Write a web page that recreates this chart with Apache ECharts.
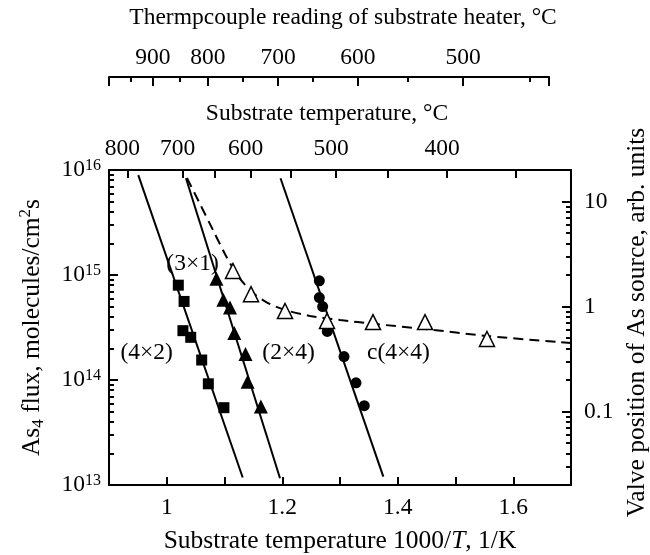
<!DOCTYPE html>
<html><head><meta charset="utf-8">
<script src="https://cdn.jsdelivr.net/npm/echarts@6/dist/echarts.min.js"></script>
<style>html,body{margin:0;padding:0;background:#fff}#c{width:650px;height:555px}</style>
</head><body><div id="c"></div>
<script>
// ---- data (x = 1000/T, 1/K) ----
const sqX = [1.020, 1.030, 1.028, 1.0415, 1.0605, 1.072, 1.099];
const sqFlux = [8.0e14, 5.6e14, 2.95e14, 2.55e14, 1.55e14, 9.2e13, 5.45e13];
const triX = [1.086, 1.098, 1.1095, 1.117, 1.1364, 1.140, 1.163];
const triFlux = [9.2e14, 5.8e14, 4.9e14, 2.8e14, 1.77e14, 9.6e13, 5.6e13];
const circX = [1.2642, 1.2642, 1.270, 1.278, 1.307, 1.3277, 1.342];
const circFlux = [8.8e14, 6.1e14, 5.0e14, 2.9e14, 1.67e14, 9.4e13, 5.7e13];
const valveX = [1.1147, 1.1459, 1.2048, 1.2775, 1.3571, 1.4472, 1.5545];
const valvePos = [2.18, 1.31, 0.906, 0.727, 0.711, 0.711, 0.49];

const sqFitX = [0.9507, 1.1315];
const sqFitFlux = [8.95e15, 1.18e13];
const triFitX = [1.0333, 1.1961];
const triFitFlux = [8.34e15, 1.16e13];
const circFitX = [1.197, 1.375];
const circFitFlux = [8.34e15, 1.2e13];
const valveFitX = [1.035, 1.0576, 1.080, 1.1026, 1.1234, 1.1476, 1.1753, 1.2048, 1.248, 1.300, 1.3606, 1.4472, 1.5545, 1.700];
const valveFitPos = [16.75, 9.46, 5.36, 3.03, 1.95, 1.374, 1.079, 0.927, 0.813, 0.743, 0.681, 0.611, 0.524, 0.449];

const annText = ['(3×1)', '(4×2)', '(2×4)', 'c(4×4)'];
const annX = [1.0455, 0.966, 1.2117, 1.402];
const annFlux = [1.27e15, 1.81e14, 1.81e14, 1.81e14];

// tick labels
const xMin = 0.9, xMax = 1.7;
const fluxDecades = [13, 14, 15, 16];
const valveLabels = [0.1, 1, 10];
const substrateTicksC = [800, 700, 650, 600, 550, 500, 450, 400, 350];
const substrateLabelsC = [800, 700, 600, 500, 400];
const tcMajorC = [900, 800, 700, 600, 500];
const tcMajorPos = [0.976, 1.071, 1.193, 1.331, 1.513];
const tcMinorC = [950, 850, 750, 650, 550, 450];
const tcMinorPos = [0.938, 1.023, 1.132, 1.253, 1.418, 1.629];
const tcEnd = 1.662;

// ---- build ----
const L = Math.log10;
const toInv = c => 1000 / (c + 273.15);
const valveMin = -1.70, valveMax = 1.30;
const fluxMinor = [];
for (let d = 13; d < 16; d++) for (let k = 2; k <= 9; k++) fluxMinor.push(d + L(k));
const valveMinor = [];
for (let d = -2; d <= 1; d++) for (let k = 2; k <= 9; k++) { const v = d + L(k); if (v > valveMin + 0.005 && v < valveMax - 0.005) valveMinor.push(v); }

const FONT = 'Liberation Serif';
const black = '#000';
const pair = (xs, ys, f) => xs.map((x, i) => [x, f(ys[i])]);

const gridL = 109, gridR = 79, gridW = 650 - gridL - gridR;
const tcW = gridW * (tcEnd - xMin) / (xMax - xMin);

const lineStyle = { color: black, width: 2 };
const txt = fs => ({ fontFamily: FONT, fontSize: fs, color: black });
const TICK = 23.5, TOPNAME = 23.5, NAME = 25.5;

const chart = echarts.init(document.getElementById('c'), null, { renderer: 'canvas' });
chart.setOption({
  animation: false,
  backgroundColor: '#fff',
  textStyle: { fontFamily: FONT },
  grid: [
    { left: gridL, right: gridR, top: 170, bottom: 70, containLabel: false, outerBoundsMode: 'none' },
    { left: gridL, width: tcW, top: 77, height: 1, containLabel: false, outerBoundsMode: 'none' }
  ],
  xAxis: [
    { gridIndex: 0, type: 'value', position: 'bottom', min: xMin, max: xMax, interval: 0.1,
      axisLine: { onZero: false, lineStyle }, axisTick: { inside: true, length: 8, lineStyle },
      splitLine: { show: false },
      axisLabel: Object.assign(txt(TICK), { margin: 11,
        formatter: v => { const t = Math.round(v * 10); return (t % 2 === 0 && t > 9 && t < 17) ? String(+(t / 10).toFixed(1)) : ''; } }),
      name: '{n|Substrate temperature 1000/}{i|T}{n|, 1/K}', nameLocation: 'middle', nameGap: 43,
      nameTextStyle: { rich: { n: txt(NAME), i: Object.assign(txt(NAME), { fontStyle: 'italic' }) } }
    },
    { gridIndex: 0, type: 'value', position: 'top', min: xMin, max: xMax,
      axisLine: { onZero: false, lineStyle },
      axisTick: { inside: true, length: 8, lineStyle, customValues: substrateTicksC.map(toInv) },
      splitLine: { show: false },
      axisLabel: Object.assign(txt(TICK), { margin: 9, customValues: substrateLabelsC.map(toInv), padding: [0, 10, 0, 0],
        formatter: v => String(Math.round(1000 / v - 273.15)) }),
      name: 'Substrate temperature, °C', nameLocation: 'middle', nameGap: 44,
      nameTextStyle: Object.assign(txt(TOPNAME), { padding: [0, 26, 0, 0] })
    },
    { gridIndex: 1, type: 'value', position: 'top', min: xMin, max: tcEnd,
      axisLine: { onZero: false, lineStyle },
      axisTick: { inside: true, length: 9, lineStyle, customValues: [xMin].concat(tcMajorPos, [tcEnd]) },
      splitLine: { show: false },
      axisLabel: Object.assign(txt(TICK), { margin: 7, customValues: tcMajorPos,
        formatter: v => { let bi = 0; tcMajorPos.forEach((p, i) => { if (Math.abs(p - v) < Math.abs(tcMajorPos[bi] - v)) bi = i; }); return String(tcMajorC[bi]); } }),
      name: 'Thermpcouple reading of substrate heater, °C', nameLocation: 'middle', nameGap: 47,
      nameTextStyle: Object.assign(txt(TOPNAME), { padding: [0, 0, 0, 28] })
    },
    { gridIndex: 1, type: 'value', position: 'top', min: xMin, max: tcEnd,
      axisLine: { show: false, onZero: false },
      axisTick: { inside: true, length: 5, lineStyle, customValues: tcMinorPos },
      axisLabel: { show: false }, splitLine: { show: false }
    }
  ],
  yAxis: [
    { gridIndex: 0, type: 'value', position: 'left', min: 13, max: 16, interval: 1,
      axisLine: { onZero: false, lineStyle }, axisTick: { inside: true, length: 9, lineStyle },
      splitLine: { show: false },
      axisLabel: { margin: 8, formatter: v => '{b|10}{s|' + v + '}',
        rich: { b: txt(TICK), s: Object.assign(txt(16), { verticalAlign: 'top', lineHeight: 16 }) } },
      name: '{n|As}{sub|4}{n| flux, molecules/cm}{sup|2}{n|s}', nameLocation: 'middle', nameRotate: 90, nameGap: 62,
      nameTextStyle: { rich: {
        n: Object.assign(txt(NAME), { lineHeight: 30 }),
        sub: Object.assign(txt(17), { verticalAlign: 'bottom', lineHeight: 17 }),
        sup: Object.assign(txt(17), { verticalAlign: 'top', lineHeight: 17 }) } }
    },
    { gridIndex: 0, type: 'value', position: 'left', min: 13, max: 16,
      axisLine: { show: false, onZero: false }, axisTick: { inside: true, length: 5, lineStyle, customValues: fluxMinor },
      axisLabel: { show: false }, splitLine: { show: false }
    },
    { gridIndex: 0, type: 'value', position: 'right', min: valveMin, max: valveMax,
      axisLine: { onZero: false, lineStyle },
      axisTick: { inside: true, length: 9, lineStyle, customValues: valveLabels.map(L) },
      splitLine: { show: false },
      axisLabel: Object.assign(txt(TICK), { margin: 13, customValues: valveLabels.map(L),
        formatter: v => String(+Math.pow(10, v).toFixed(1)) }),
      name: 'Valve position of As source, arb. units', nameLocation: 'middle', nameRotate: 90, nameGap: 45,
      nameTextStyle: Object.assign(txt(NAME), { padding: [0, 0, 0, 10] })
    },
    { gridIndex: 0, type: 'value', position: 'right', min: valveMin, max: valveMax,
      axisLine: { show: false, onZero: false }, axisTick: { inside: true, length: 5, lineStyle, customValues: valveMinor },
      axisLabel: { show: false }, splitLine: { show: false }
    },
    { gridIndex: 1, type: 'value', min: 0, max: 1, show: false }
  ],
  series: [
    { type: 'line', xAxisIndex: 0, yAxisIndex: 0, data: pair(sqFitX, sqFitFlux, L), symbol: 'none', lineStyle: { color: black, width: 2 }, z: 2 },
    { type: 'line', xAxisIndex: 0, yAxisIndex: 0, data: pair(triFitX, triFitFlux, L), symbol: 'none', lineStyle: { color: black, width: 2 }, z: 2 },
    { type: 'line', xAxisIndex: 0, yAxisIndex: 0, data: pair(circFitX, circFitFlux, L), symbol: 'none', lineStyle: { color: black, width: 2 }, z: 2 },
    { type: 'line', xAxisIndex: 0, yAxisIndex: 2, data: pair(valveFitX, valveFitPos, L), symbol: 'none', smooth: 0.3,
      lineStyle: { color: black, width: 2, type: [10, 6] }, z: 2 },
    { type: 'scatter', xAxisIndex: 0, yAxisIndex: 0, data: pair(sqX, sqFlux, L), symbol: 'rect', symbolSize: 11, itemStyle: { color: black, opacity: 1 }, z: 3 },
    { type: 'scatter', xAxisIndex: 0, yAxisIndex: 0, data: pair(triX, triFlux, L), symbol: 'triangle', symbolSize: 14, itemStyle: { color: black, opacity: 1 }, z: 3 },
    { type: 'scatter', xAxisIndex: 0, yAxisIndex: 0, data: pair(circX, circFlux, L), symbol: 'circle', symbolSize: 11, itemStyle: { color: black, opacity: 1 }, z: 3 },
    { type: 'scatter', xAxisIndex: 0, yAxisIndex: 2, data: pair(valveX, valvePos, L), symbol: 'triangle', symbolSize: 15,
      itemStyle: { color: '#fff', borderColor: black, borderWidth: 1.5, opacity: 1 }, z: 4 },
    { type: 'scatter', xAxisIndex: 0, yAxisIndex: 0, symbolSize: 1, silent: true, z: 5,
      itemStyle: { color: 'rgba(0,0,0,0)' },
      data: annX.map((x, i) => ({ value: [x, L(annFlux[i])], name: annText[i] })),
      label: Object.assign(txt(TICK), { show: true, position: [0, 0], align: 'center', verticalAlign: 'middle',
        opacity: 1, textBorderWidth: 0, formatter: p => p.name }) }
  ]
});
</script></body></html>
